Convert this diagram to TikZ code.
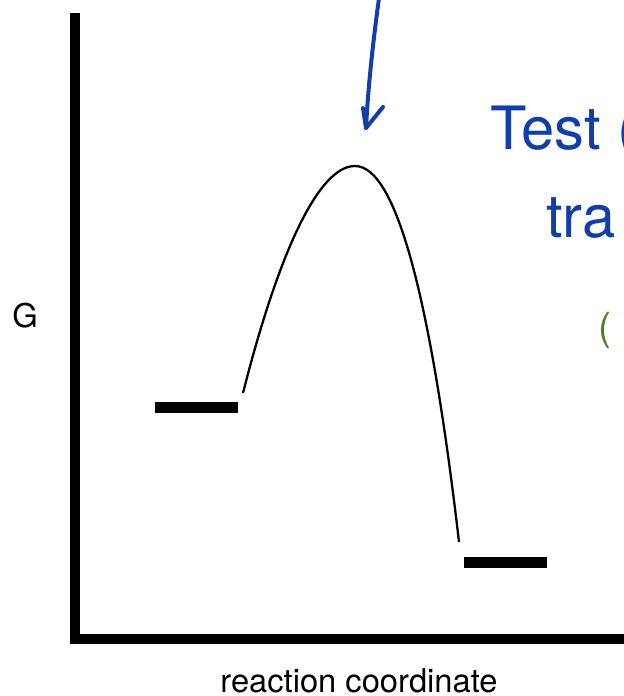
\documentclass[tikz,border=0pt]{standalone}
\usepackage{fontspec}
\setmainfont{TeX Gyre Heros}
\usepackage{tikz}
\usetikzlibrary{positioning, calc}
\definecolor{penblue}{RGB}{18,62,170}
\definecolor{pengreen}{RGB}{78,128,44}
\tikzset{
  axis/.style={line width=10*0.02cm, black, line join=miter},
  level/.style={line width=11*0.02cm, black},
  barrier/.style={line width=1.3pt, black},
  pen/.style={line width=4*0.02cm, color=penblue, line cap=round, line join=round},
  hand/.style={color=penblue, font=\fontsize{34}{36}\selectfont, inner sep=0pt, anchor=base west},
  lbl/.style={font=\fontsize{18.6}{22}\selectfont, inner sep=0pt}
}
\begin{document}
\begin{tikzpicture}[x=0.02cm, y=-0.02cm]
  \useasboundingbox (0,0) rectangle (624,696);
  \clip (0,0) rectangle (624,696);
  % axes
  \draw[axis] (75,13) -- (75,639) -- (624,639);
  \node[lbl] (gLabel) at (25,316) {G};
  \node[lbl] (rcLabel) at (359,681) {reaction coordinate};
  % energy levels
  \coordinate (reactL) at (155,407);
  \coordinate (reactR) at (238,407);
  \coordinate (prodL) at (464,562);
  \coordinate (prodR) at (547,562);
  \draw[level] (reactL) -- (reactR);
  \draw[level] (prodL) -- (prodR);
  % barrier
  \coordinate (start) at (243,393);
  \coordinate (peak) at (355,166);
  \coordinate (stop) at (459,542);
  \draw[barrier] (start) .. controls (278,255) and (318,166) .. (peak)
       .. controls (398,166) and (432,310) .. (stop);
  % handwritten arrow
  \coordinate (penTop) at (379,-2);
  \coordinate (penTip) at (366,128);
  \draw[pen] (penTop) .. controls (372,50) and (368,90) .. (penTip);
  \draw[pen] (363,108) -- (penTip) -- (383,107);
  % handwritten notes
  \node[hand] (noteA) at (490,150) {Test (};
  \node[hand] (noteB) at (546,237) {tra};
  \node[hand, color=pengreen, font=\fontsize{22}{24}\selectfont] (noteC) at (598,340) {(};
\end{tikzpicture}
\end{document}
